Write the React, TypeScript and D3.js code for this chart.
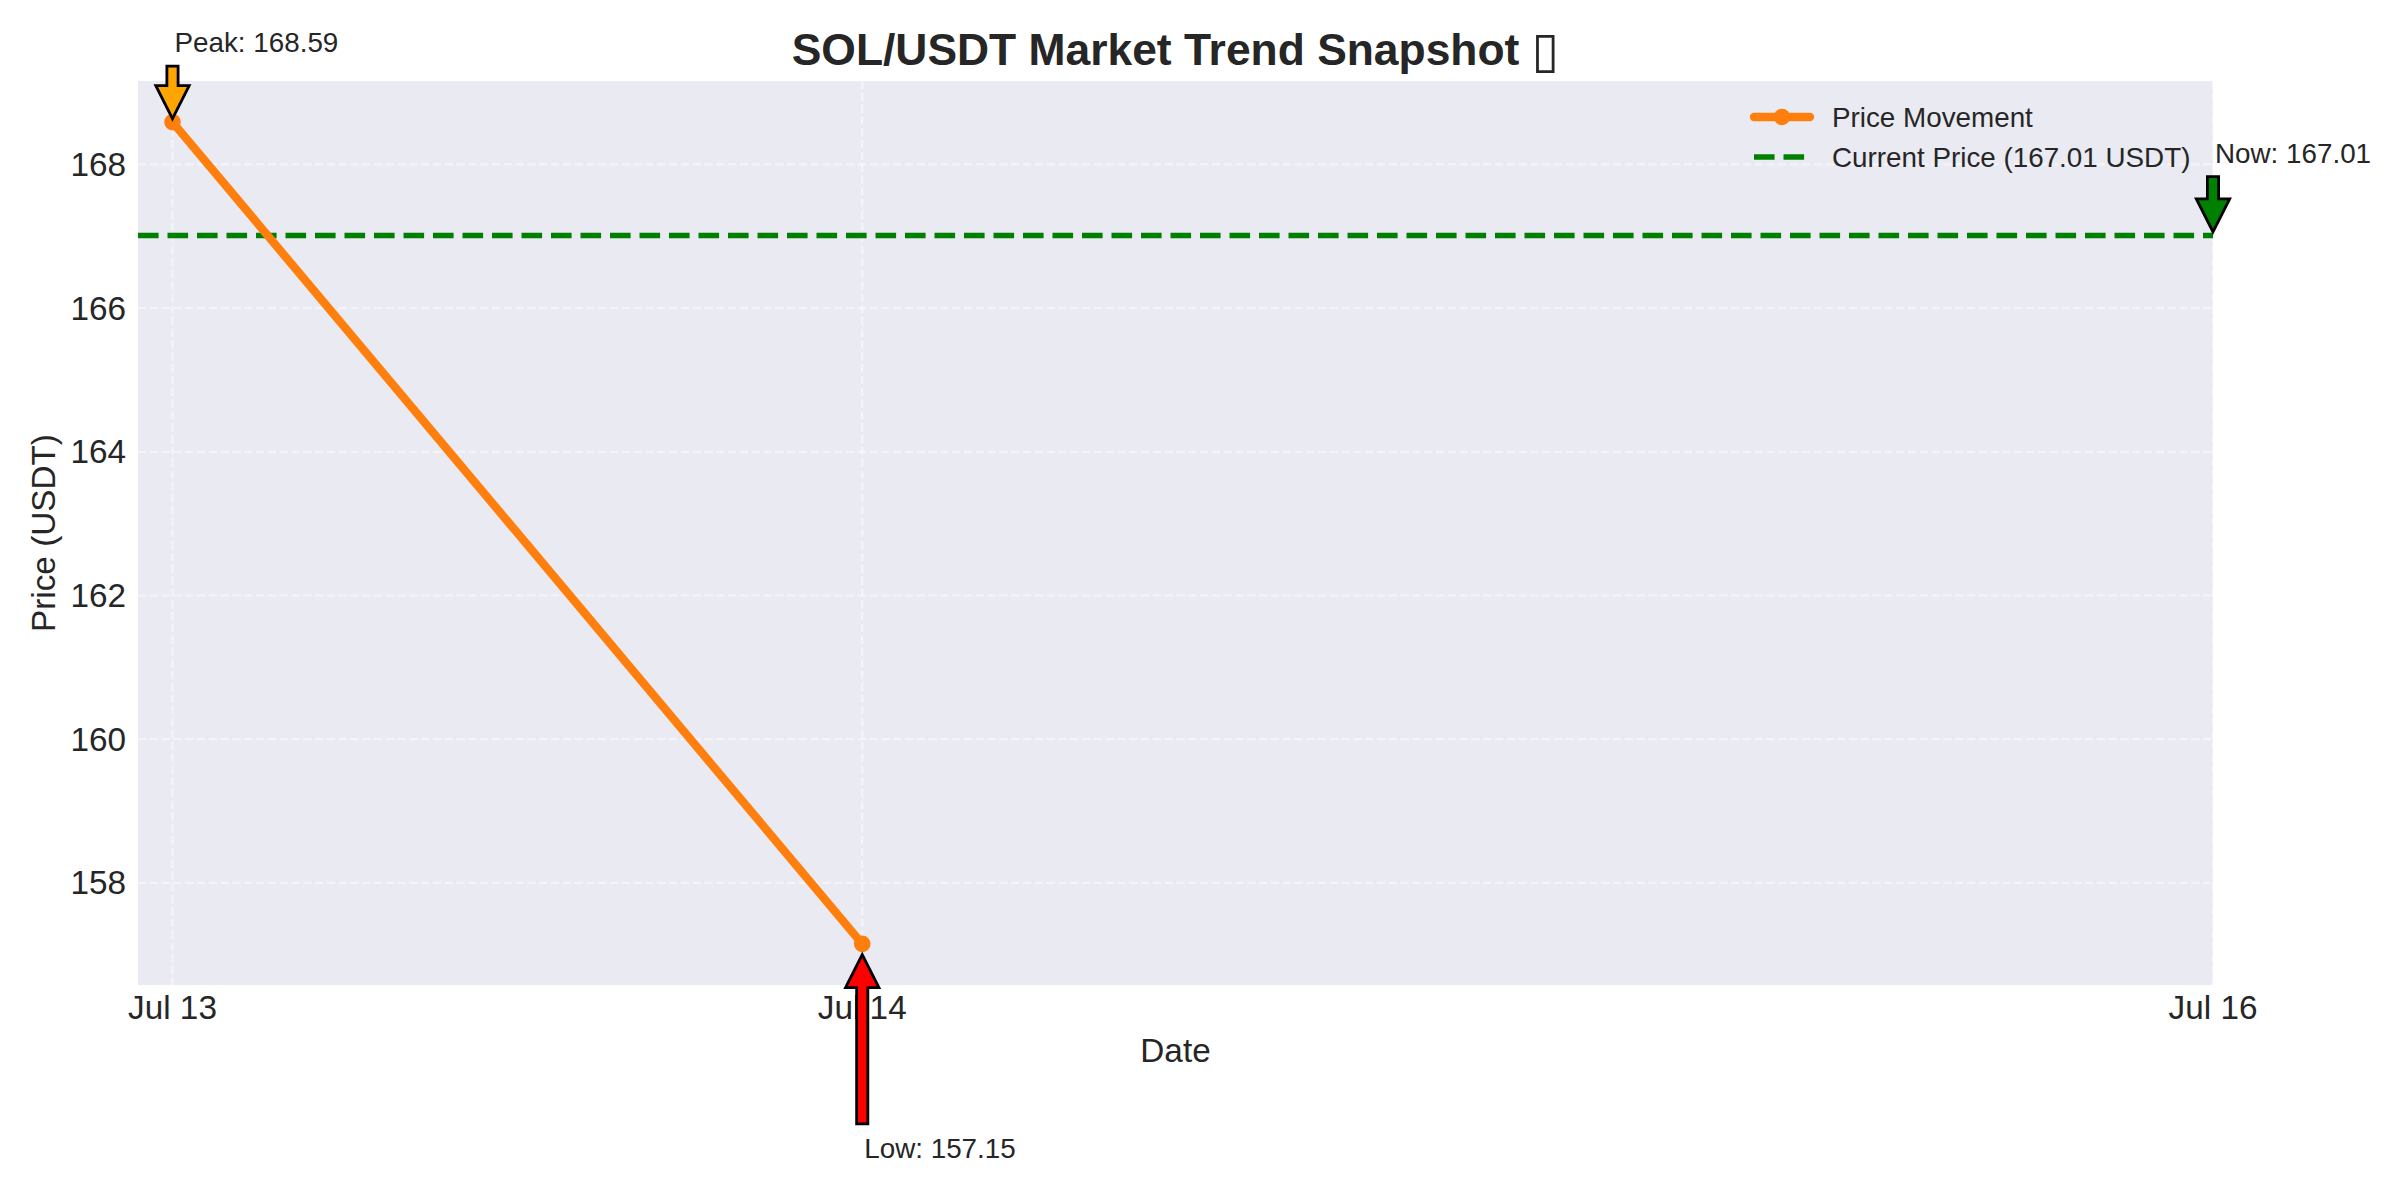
import React from "react";
import * as d3 from "d3";

// Price series (two observations) and the current quote
const dates: string[] = ["2025-07-13T02:00:00", "2025-07-14T02:00:00"];
const prices: number[] = [168.59, 157.15];
const nowDate: string = "2025-07-16T01:00:00";
const currentPrice: number = 167.01;
const yTicks: number[] = [158, 160, 162, 164, 166, 168];
const legendLabels: string[] = ["Price Movement", `Current Price (${currentPrice.toFixed(2)} USDT)`];
const titleText = "SOL/USDT Market Trend Snapshot ";
const titleGlyph = "\u25AF";

const W = 2400;
const H = 1200;
const PLOT = { left: 138, right: 2213, top: 81, bottom: 985 };
const FONT = "'Liberation Sans', Arial, Helvetica, sans-serif";
const TEXT = "#262626";
const ORANGE = "#ff7f0e";
const GREEN = "#008000";

function arrowPolygon(x: number, yTail: number, yTip: number): string {
  const dir = Math.sign(yTip - yTail);
  const sw = 5.6;
  const hw = 16.7;
  const hl = 33;
  const yBase = yTip - dir * hl;
  const pts: [number, number][] = [
    [x - sw, yTail],
    [x + sw, yTail],
    [x + sw, yBase],
    [x + hw, yBase],
    [x, yTip],
    [x - hw, yBase],
    [x - sw, yBase],
  ];
  return pts.map((p) => p.join(",")).join(" ");
}

export default function App() {
  const parse = (s: string) => new Date(s);
  const t = dates.map(parse);
  const tNow = parse(nowDate);
  const span = t[t.length - 1].getTime() - t[0].getTime();

  const x = d3
    .scaleTime()
    .domain([new Date(t[0].getTime() - 0.05 * span), tNow])
    .range([PLOT.left, PLOT.right]);

  const [pMin, pMax] = d3.extent(prices) as [number, number];
  const pad = 0.05 * (pMax - pMin);
  const y = d3.scaleLinear().domain([pMin - pad, pMax + pad]).range([PLOT.bottom, PLOT.top]);

  const xTickDates = [...t, tNow];
  const fmt = d3.timeFormat("%b %d");

  const line = d3
    .line<number>()
    .x((_, i) => x(t[i]))
    .y((d) => y(d));

  const iPeak = prices.indexOf(pMax);
  const iLow = prices.indexOf(pMin);

  type Ann = { label: string; px: number; py: number; ty: number; color: string; up: boolean };
  const anns: Ann[] = [
    { label: `Peak: ${pMax.toFixed(2)}`, px: x(t[iPeak]), py: y(pMax), ty: y(pMax) - 70, color: "#FFA500", up: false },
    { label: `Low: ${pMin.toFixed(2)}`, px: x(t[iLow]), py: y(pMin), ty: y(pMin) + 214, color: "#FF0000", up: true },
    { label: `Now: ${currentPrice.toFixed(2)}`, px: x(tNow), py: y(currentPrice), ty: y(currentPrice) - 73, color: GREEN, up: false },
  ];

  const gridStyle = { stroke: "#ffffff", strokeWidth: 2.2, strokeDasharray: "8.2 3.6", opacity: 0.5 };

  return (
    <svg
      width={W}
      height={H}
      style={{ position: "absolute", left: 0, top: 0, display: "block", background: "#ffffff" }}
      fontFamily={FONT}
    >
      <rect x={0} y={0} width={W} height={H} fill="#ffffff" />
      <rect x={PLOT.left} y={PLOT.top} width={PLOT.right - PLOT.left} height={PLOT.bottom - PLOT.top} fill="#EAEAF2" />

      {/* grid */}
      {yTicks.map((v) => (
        <line key={`gy${v}`} x1={PLOT.left} x2={PLOT.right} y1={y(v)} y2={y(v)} {...gridStyle} />
      ))}
      {xTickDates.map((d, i) => (
        <line key={`gx${i}`} x1={x(d)} x2={x(d)} y1={PLOT.top} y2={PLOT.bottom} {...gridStyle} />
      ))}

      {/* current price reference line */}
      <line
        x1={PLOT.left}
        x2={PLOT.right}
        y1={y(currentPrice)}
        y2={y(currentPrice)}
        stroke={GREEN}
        strokeWidth={5.56}
        strokeDasharray="20.6 8.9"
      />

      {/* price line with markers */}
      <path d={line(prices) || ""} fill="none" stroke={ORANGE} strokeWidth={8.34} strokeLinecap="round" strokeLinejoin="round" />
      {prices.map((p, i) => (
        <circle key={`m${i}`} cx={x(t[i])} cy={y(p)} r={8.3} fill={ORANGE} />
      ))}

      {/* y ticks */}
      {yTicks.map((v) => (
        <text key={`yt${v}`} x={126} y={y(v)} textAnchor="end" dominantBaseline="central" fontSize={33.3} fill={TEXT}>
          {v}
        </text>
      ))}
      {/* x ticks */}
      {xTickDates.map((d, i) => (
        <text key={`xt${i}`} x={x(d)} y={1019} textAnchor="middle" fontSize={33.3} fill={TEXT}>
          {fmt(d)}
        </text>
      ))}

      {/* axis labels */}
      <text x={(PLOT.left + PLOT.right) / 2} y={1062} textAnchor="middle" fontSize={33.3} fill={TEXT}>
        Date
      </text>
      <text
        transform={`translate(43,${(PLOT.top + PLOT.bottom) / 2}) rotate(-90)`}
        textAnchor="middle"
        dominantBaseline="central"
        fontSize={33.3}
        fill={TEXT}
      >
        Price (USDT)
      </text>

      {/* title */}
      <text x={(PLOT.left + PLOT.right) / 2} y={65} textAnchor="middle" fontSize={44.4} fontWeight="bold" fill={TEXT}>
        {titleText}
        <tspan fontWeight="normal" fontFamily="'DejaVu Sans', sans-serif" fontSize={50} dy={2}>
          {titleGlyph}
        </tspan>
      </text>

      {/* legend */}
      <g>
        <line x1={1754} x2={1810} y1={117} y2={117} stroke={ORANGE} strokeWidth={8.34} strokeLinecap="round" />
        <circle cx={1782} cy={117} r={8.3} fill={ORANGE} />
        <text x={1832} y={117} dominantBaseline="central" fontSize={27.8} fill={TEXT}>
          {legendLabels[0]}
        </text>
        <line x1={1754} x2={1810} y1={157} y2={157} stroke={GREEN} strokeWidth={5.56} strokeDasharray="20.6 8.9" />
        <text x={1832} y={157} dominantBaseline="central" fontSize={27.8} fill={TEXT}>
          {legendLabels[1]}
        </text>
      </g>

      {/* annotations */}
      {anns.map((a, i) => {
        const shrink = 0.05 * Math.abs(a.py - a.ty);
        const tail = a.up ? a.ty - 34 : a.ty + 14;
        const tip = a.up ? a.py + shrink : a.py - shrink;
        return (
          <g key={`ann${i}`}>
            <polygon points={arrowPolygon(a.px, tail, tip)} fill={a.color} stroke="#000000" strokeWidth={2.8} strokeLinejoin="miter" />
            <text x={a.px + 2} y={a.ty} fontSize={27.8} fill={TEXT}>
              {a.label}
            </text>
          </g>
        );
      })}
    </svg>
  );
}
